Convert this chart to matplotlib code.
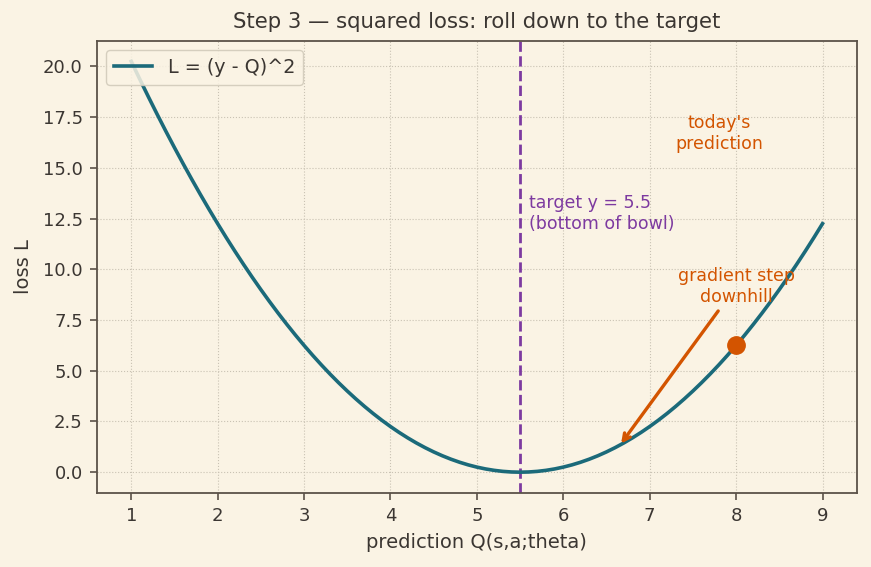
import matplotlib
matplotlib.use("Agg")
import matplotlib.pyplot as plt

# datos de la curva de pérdida L = (y - Q)^2 (paso 0.1)
q_vals = [1.0, 1.1, 1.2, 1.3, 1.4, 1.5, 1.6, 1.7, 1.8, 1.9,
          2.0, 2.1, 2.2, 2.3, 2.4, 2.5, 2.6, 2.7, 2.8, 2.9,
          3.0, 3.1, 3.2, 3.3, 3.4, 3.5, 3.6, 3.7, 3.8, 3.9,
          4.0, 4.1, 4.2, 4.3, 4.4, 4.5, 4.6, 4.7, 4.8, 4.9,
          5.0, 5.1, 5.2, 5.3, 5.4, 5.5, 5.6, 5.7, 5.8, 5.9,
          6.0, 6.1, 6.2, 6.3, 6.4, 6.5, 6.6, 6.7, 6.8, 6.9,
          7.0, 7.1, 7.2, 7.3, 7.4, 7.5, 7.6, 7.7, 7.8, 7.9,
          8.0, 8.1, 8.2, 8.3, 8.4, 8.5, 8.6, 8.7, 8.8, 8.9, 9.0]
loss_vals = [20.25, 19.36, 18.49, 17.64, 16.81, 16.0, 15.21, 14.44, 13.69, 12.96,
             12.25, 11.56, 10.89, 10.24, 9.61, 9.0, 8.41, 7.84, 7.29, 6.76,
             6.25, 5.76, 5.29, 4.84, 4.41, 4.0, 3.61, 3.24, 2.89, 2.56,
             2.25, 1.96, 1.69, 1.44, 1.21, 1.0, 0.81, 0.64, 0.49, 0.36,
             0.25, 0.16, 0.09, 0.04, 0.01, 0.0, 0.01, 0.04, 0.09, 0.16,
             0.25, 0.36, 0.49, 0.64, 0.81, 1.0, 1.21, 1.44, 1.69, 1.96,
             2.25, 2.56, 2.89, 3.24, 3.61, 4.0, 4.41, 4.84, 5.29, 5.76,
             6.25, 6.76, 7.29, 7.84, 8.41, 9.0, 9.61, 10.24, 10.89, 11.56, 12.25]
target_y = 5.5
today_q, today_loss = 8.0, 6.25
step_to = (6.65, 1.3)

bg = "#faf3e4"
ink = "#3b3632"
teal = "#1b6a7a"
purple = "#7d3aa0"
orange = "#d35400"

plt.rcParams["font.family"] = "DejaVu Sans"
fig = plt.figure(figsize=(8.71, 5.67), dpi=100, facecolor=bg)
ax = fig.add_axes([0.111, 0.131, 0.873, 0.797])
ax.set_facecolor(bg)

ax.plot(q_vals, loss_vals, color=teal, lw=2.6, label="L = (y - Q)^2", zorder=3)
ax.axvline(target_y, color=purple, ls="--", lw=2, zorder=2)
ax.text(target_y + 0.1, 12.75, "target y = 5.5\n(bottom of bowl)", color=purple,
        fontsize=12.5, ha="left", va="center")
ax.plot([today_q], [today_loss], "o", color=orange, ms=12.5, zorder=4)
ax.text(7.8, 16.7, "today's\nprediction", color=orange, fontsize=12.5,
        ha="center", va="center")
ax.annotate("gradient step\ndownhill", xy=step_to, xytext=(8.0, 9.15),
            color=orange, fontsize=12.5, ha="center", va="center",
            arrowprops=dict(arrowstyle="->", color=orange, lw=2.4), zorder=5)

ax.set_title("Step 3 \u2014 squared loss: roll down to the target", color=ink,
             fontsize=15.3, pad=9)
ax.set_xlabel("prediction Q(s,a;theta)", color=ink, fontsize=14, labelpad=6)
ax.set_ylabel("loss L", color=ink, fontsize=14, labelpad=7)
ax.tick_params(colors=ink, labelsize=13, length=5, width=1.2, pad=5)
ax.tick_params(color="#5b5248")
ax.grid(True, ls=":", color="#c9c2b3", lw=0.8)
for s in ax.spines.values():
    s.set_color("#5b5248")
    s.set_linewidth(1.3)

leg = ax.legend(loc="upper left", fontsize=13.8, facecolor=bg, edgecolor="#cfc8b8",
                framealpha=0.85, borderaxespad=0.5)
for t in leg.get_texts():
    t.set_color(ink)

fig.savefig("out.png", dpi=100, facecolor=bg)
